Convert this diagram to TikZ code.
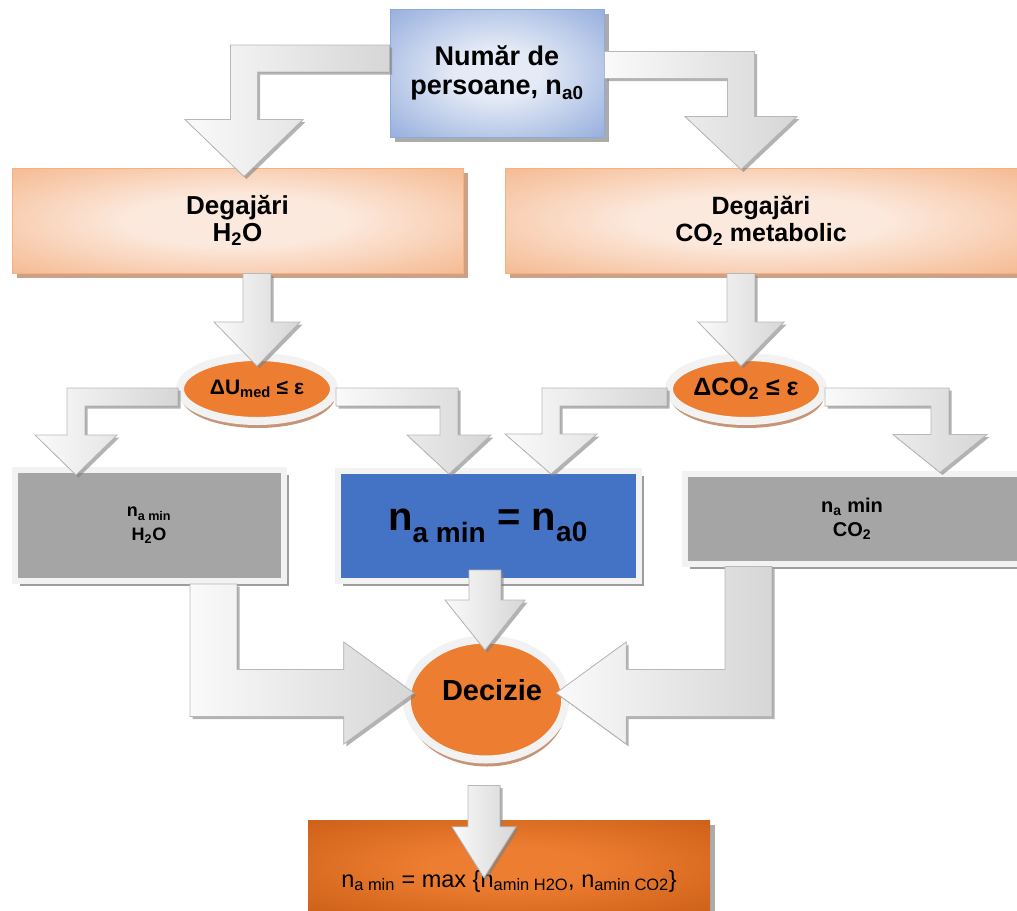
\documentclass[tikz,border=0pt]{standalone}
\usepackage{fontspec}
\setmainfont{Liberation Sans}
\usetikzlibrary{calc,shapes.geometric,shadows}

\definecolor{bluelite}{HTML}{E4EAF6}
\definecolor{bluedark}{HTML}{8EA9DB}
\definecolor{peachlite}{HTML}{FCE9DD}
\definecolor{peachdark}{HTML}{F4B183}
\definecolor{decorange}{HTML}{ED7D31}
\definecolor{rustdark}{HTML}{C55A11}
\definecolor{boxgray}{HTML}{A5A5A5}
\definecolor{boxblue}{HTML}{4472C4}
\definecolor{rimwhite}{HTML}{F2F2F2}
\definecolor{ovalshade}{HTML}{C08A68}

\pgfdeclareradialshading{blueglow}{\pgfpointorigin}{color(0bp)=(bluelite); color(10bp)=(bluelite); color(38bp)=(bluedark)}
\pgfdeclareradialshading{peachglow}{\pgfpointorigin}{color(0bp)=(peachlite); color(12bp)=(peachlite); color(40bp)=(peachdark)}
\pgfdeclareradialshading{rustglow}{\pgfpointorigin}{color(0bp)=(decorange); color(10bp)=(decorange); color(42bp)=(rustdark)}

\newcommand{\droparrow}[5]{%
  \filldraw[blockarrow] ($(#2|-#1)+(-#3,0)$) -- ($(#2)+(-#3,-#5)$)
    -- ($(#2)+(-#4,-#5)$) -- (#2) -- ($(#2)+(#4,-#5)$)
    -- ($(#2)+(#3,-#5)$) -- ($(#2|-#1)+(#3,0)$) -- cycle;}
\newcommand{\bentarrow}[6]{%
  \filldraw[blockarrow] ($(#1)+(0,-#3)$)
    -- ($(#2|-#1)+({(#6)*#3},-#3)$) -- ($(#2)+({(#6)*#3},-#5)$)
    -- ($(#2)+({(#6)*#4},-#5)$) -- (#2) -- ($(#2)+({-(#6)*#4},-#5)$)
    -- ($(#2)+({-(#6)*#3},-#5)$) -- ($(#2|-#1)+({-(#6)*#3},#3)$)
    -- ($(#1)+(0,#3)$) -- cycle;}
\newcommand{\elbowarrow}[6]{%
  \filldraw[blockarrow] ($(#1)+({-(#6)*#3},0)$)
    -- ($(#1|-#2)+({-(#6)*#3},#3)$) -- ($(#2)+({-(#6)*#5},#3)$)
    -- ($(#2)+({-(#6)*#5},#4)$) -- (#2) -- ($(#2)+({-(#6)*#5},-#4)$)
    -- ($(#2)+({-(#6)*#5},-#3)$) -- ($(#1|-#2)+({(#6)*#3},-#3)$)
    -- ($(#1)+({(#6)*#3},0)$) -- cycle;}

\begin{document}
\begin{tikzpicture}[x=1pt, y=-1pt,
    topbox/.style={rectangle, draw=bluedark, line width=1pt, shade, shading=blueglow,
      drop shadow={shadow xshift=5pt, shadow yshift=-5pt, fill=black!55, opacity=.6},
      align=center, font=\bfseries\fontsize{27}{29}\selectfont},
    degbox/.style={rectangle, draw=peachdark, line width=1pt, shade, shading=peachglow,
      drop shadow={shadow xshift=5pt, shadow yshift=-5pt, fill=ovalshade, opacity=.8},
      align=center, minimum height=105pt},
    oval/.style={ellipse, fill=decorange, draw=rimwhite, line width=8pt, inner sep=0pt,
      minimum width=154pt, minimum height=64pt,
      drop shadow={shadow xshift=1pt, shadow yshift=-7pt, fill=ovalshade, opacity=.9}},
    framebox/.style={rectangle, draw=rimwhite, line width=6pt, align=center,
      drop shadow={shadow xshift=5pt, shadow yshift=-5pt, fill=black!55, opacity=.7}},
    blockarrow/.style={draw=black!28, line width=.8pt, line join=miter, left color=black!2, right color=black!16,
      drop shadow={shadow xshift=2.5pt, shadow yshift=-2.5pt, fill=black!50, opacity=.6}}]
  \useasboundingbox (0,0) rectangle (1017,910);

  \node[topbox, minimum width=214pt, minimum height=128pt] (top) at (497,73) {Număr de\\persoane, n\textsubscript{a0}};
  \node[degbox, minimum width=451pt, font=\bfseries\fontsize{26}{27}\selectfont] (degh) at (237.5,220.5) {Degajări\\H\textsubscript{2}O};
  \node[degbox, minimum width=512pt, font=\bfseries\fontsize{25}{27}\selectfont] (degc) at (761,220.5) {Degajări\\CO\textsubscript{2} metabolic};
  \node[oval, font=\bfseries\fontsize{21}{23}\selectfont] (dU) at (257,389) {ΔU\textsubscript{med} ≤ ε};
  \node[oval, font=\bfseries\fontsize{25}{27}\selectfont] (dC) at (746,389) {ΔCO\textsubscript{2} ≤ ε};
  \node[framebox, fill=boxgray, minimum width=269pt, minimum height=111pt, font=\bfseries\fontsize{18}{24}\selectfont] (nh) at (149,525.5) {n\textsubscript{a min}\\H\textsubscript{2}O};
  \node[framebox, fill=boxblue, minimum width=301pt, minimum height=110pt, font=\bfseries\fontsize{40}{44}\selectfont] (na0) at (488,526) {n\textsubscript{a min} = n\textsubscript{a0}};
  \node[framebox, fill=boxgray, minimum width=335pt, minimum height=90pt, font=\bfseries\fontsize{20}{24}\selectfont] (nc) at (852,518.5) {n\textsubscript{a} min\\CO\textsubscript{2}};
  \node[oval, minimum width=156pt, minimum height=120pt, text height=21pt, text depth=20pt,
    font=\bfseries\fontsize{29}{31}\selectfont] (dec) at (486,699.5) {\hspace*{12pt}Decizie};
  \node[rectangle, shade, shading=rustglow, minimum width=402pt, minimum height=92pt,
    drop shadow={shadow xshift=5pt, shadow yshift=-5pt, fill=black!55, opacity=.6},
    text height=42pt, text depth=0pt, font=\fontsize{23.5}{25}\selectfont] (res) at (509,866)
    {n\textsubscript{a min} = max \{n\textsubscript{amin H2O}, n\textsubscript{amin CO2}\}};

  \coordinate (s1) at ($(top.west)+(0,-14.5)$);
  \coordinate (t1) at ($(degh.north)+(6.5,9)$);
  \bentarrow{s1}{t1}{13.5}{59}{57}{-1}
  \coordinate (s2) at ($(top.east)+(0,-8)$);
  \coordinate (t2) at ($(degc.north)+(-20,2)$);
  \bentarrow{s2}{t2}{13.5}{56}{53}{1}

  \coordinate (s3) at (degh.south);
  \coordinate (t3) at ($(dU.north)+(0,13)$);
  \droparrow{s3}{t3}{14}{43}{44}
  \coordinate (s4) at (degc.south);
  \coordinate (t4) at ($(dC.north)+(-5,13)$);
  \droparrow{s4}{t4}{14}{43}{44}

  \coordinate (s5) at ($(dU.west)+(2,8)$);
  \coordinate (t5) at ($(nh.north)+(-73,8)$);
  \bentarrow{s5}{t5}{9}{41}{40}{-1}
  \coordinate (s6) at ($(dU.east)+(-2,8)$);
  \coordinate (t6) at ($(na0.north)+(-39,6)$);
  \bentarrow{s6}{t6}{9}{42}{39}{1}
  \coordinate (s7) at ($(dC.west)+(2,8)$);
  \coordinate (t7) at ($(na0.north)+(63,6)$);
  \bentarrow{s7}{t7}{9}{46}{40}{-1}
  \coordinate (s8) at ($(dC.east)+(-2,8)$);
  \coordinate (t8) at ($(nc.north)+(88,2)$);
  \bentarrow{s8}{t8}{9}{47}{38}{1}

  \coordinate (s9) at ($(nh.south)+(64.5,0)$);
  \coordinate (t9) at ($(dec.west)+(11,-6.5)$);
  \elbowarrow{s9}{t9}{23.5}{51}{70}{1}
  \coordinate (s10) at ($(nc.south)+(-103.5,0)$);
  \coordinate (t10) at ($(dec.east)+(-13,-6.5)$);
  \elbowarrow{s10}{t10}{23.5}{51}{70}{-1}

  \coordinate (s11) at ($(na0.south)+(0,-14)$);
  \coordinate (t11) at ($(dec.north)+(-1,14.5)$);
  \droparrow{s11}{t11}{16}{40}{50}
  \coordinate (s12) at ($(dec.south)+(0,22)$);
  \coordinate (t12) at ($(res.north)+(-25,58)$);
  \droparrow{s12}{t12}{16}{32}{51}
\end{tikzpicture}
\end{document}
